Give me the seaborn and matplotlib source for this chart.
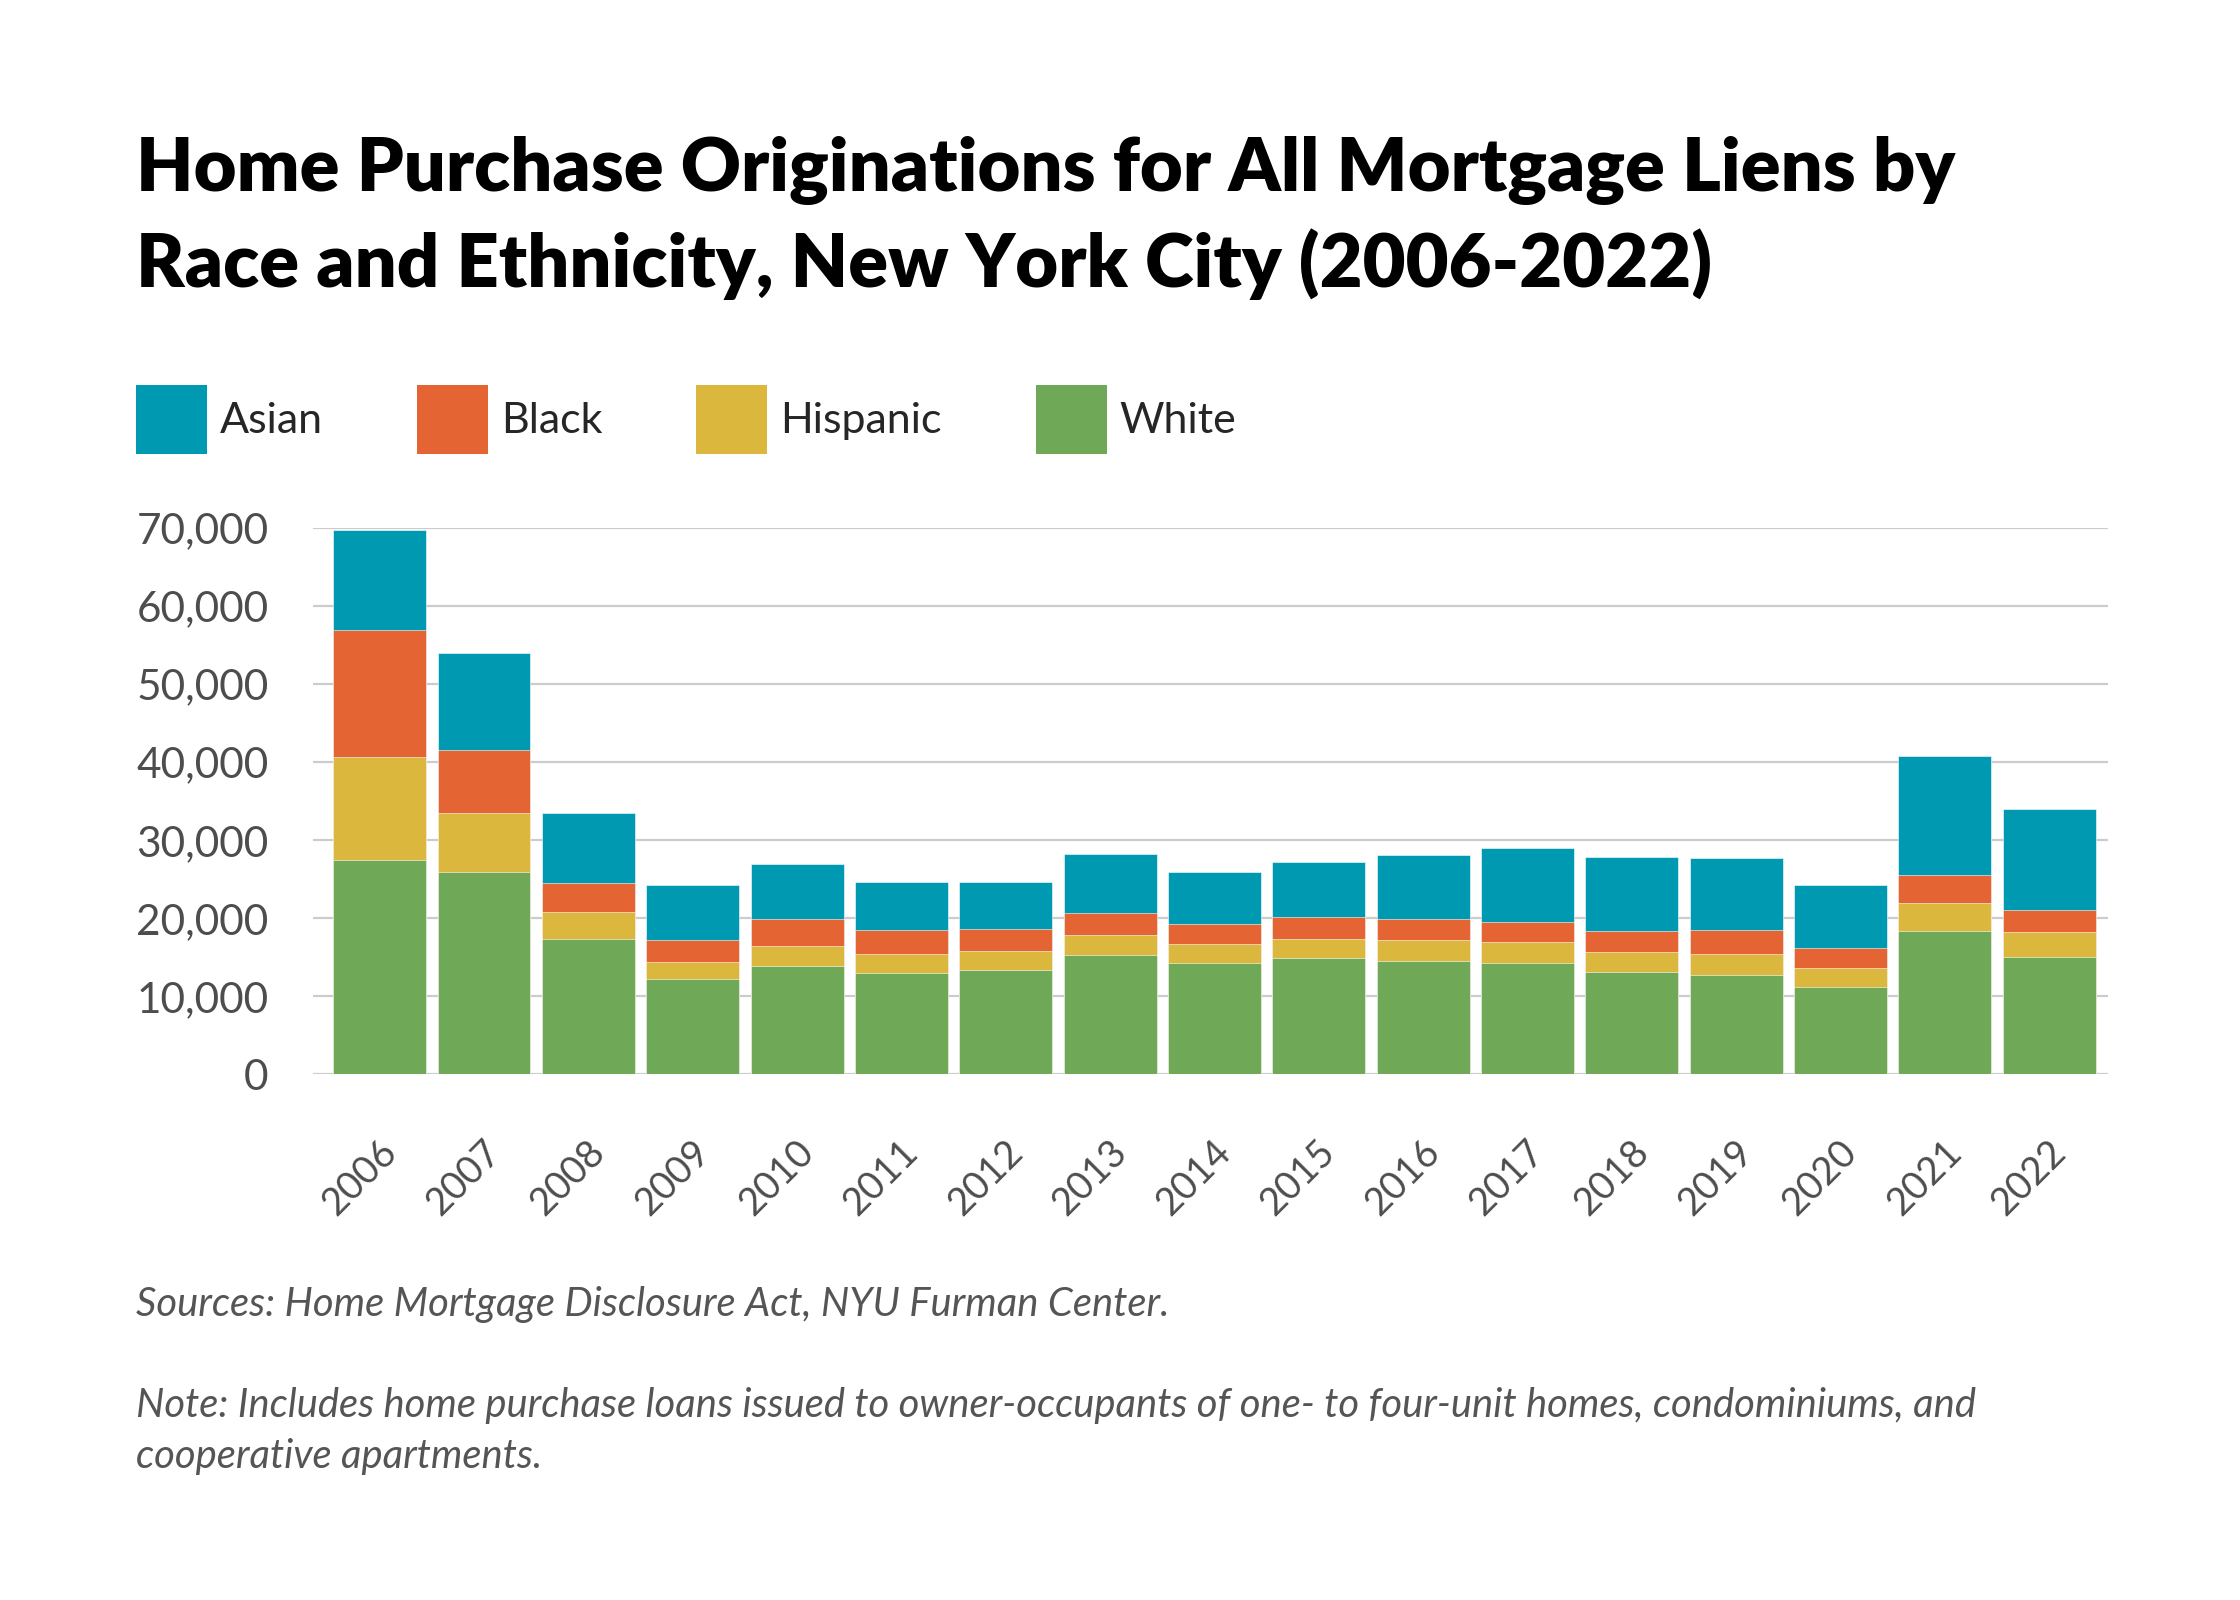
import matplotlib
matplotlib.use("Agg")
import matplotlib.pyplot as plt
from matplotlib.patches import Patch
from matplotlib.ticker import FuncFormatter
from matplotlib.transforms import ScaledTranslation
import pandas as pd
import seaborn as sns

# --- data ---
years = [str(y) for y in range(2006, 2023)]
white = [27500, 25900, 17400, 12200, 13900, 12950, 13400, 15230, 14260,
         14850, 14470, 14230, 13120, 12710, 11130, 18340, 15050]
hispanic = [13200, 7650, 3400, 2200, 2550, 2500, 2430, 2640, 2460,
            2510, 2720, 2660, 2600, 2730, 2430, 3620, 3120]
black = [16200, 7950, 3750, 2850, 3450, 3050, 2770, 2810, 2560,
         2770, 2770, 2570, 2660, 3110, 2640, 3630, 2900]
asian = [12900, 12550, 9000, 7050, 7050, 6150, 6000, 7490, 6680,
         7020, 8080, 9530, 9480, 9170, 8060, 15220, 12870]

groups = ["Asian", "Black", "Hispanic", "White"]
colors = {"Asian": "#0099B2", "Black": "#E56434",
          "Hispanic": "#DCB73E", "White": "#6FA857"}

df = pd.DataFrame({"year": years, "White": white, "Hispanic": hispanic,
                   "Black": black, "Asian": asian})
# stack from the bottom: White, Hispanic, Black, Asian
df["cum_White"] = df["White"]
df["cum_Hispanic"] = df["cum_White"] + df["Hispanic"]
df["cum_Black"] = df["cum_Hispanic"] + df["Black"]
df["cum_Asian"] = df["cum_Black"] + df["Asian"]

sns.set_style("white")
plt.rcParams["font.family"] = ["Lato", "DejaVu Sans"]

fig = plt.figure(figsize=(22.4, 16), dpi=100)
ax = fig.add_axes([0.1397, 0.3286, 0.8012, 0.3413])

# draw tallest (cumulative) first so lower segments sit on top
for g in ["Asian", "Black", "Hispanic", "White"]:
    sns.barplot(data=df, x="year", y="cum_" + g, color=colors[g],
                saturation=1, width=0.89, edgecolor="white",
                linewidth=0.4, ax=ax)

ax.set_ylim(0, 70000)
ax.set_xlim(-0.64, 16.56)
ax.set_yticks(range(0, 70001, 10000))
ax.yaxis.set_major_formatter(FuncFormatter(lambda v, p: f"{int(v):,}"))
ax.yaxis.grid(True, color="#cccccc", linewidth=1.6)
ax.set_axisbelow(True)
sns.despine(ax=ax, left=True, bottom=True)
ax.set_xlabel("")
ax.set_ylabel("")
ax.tick_params(axis="y", length=0, pad=32, labelsize=30.5, labelcolor="#4d4d4d")
ax.tick_params(axis="x", length=0, pad=52, labelsize=27.5, labelcolor="#4d4d4d")

offset = ScaledTranslation(0.11, 0, fig.dpi_scale_trans)
for lab in ax.get_xticklabels():
    lab.set_rotation(45)
    lab.set_ha("right")
    lab.set_va("center")
    lab.set_rotation_mode("anchor")
    lab.set_transform(lab.get_transform() + offset)

# title
fig.text(0.0607, 0.8806, "Home Purchase Originations for All Mortgage Liens by",
         fontsize=53.3, fontweight="heavy", color="black", va="baseline")
fig.text(0.0607, 0.8206, "Race and Ethnicity, New York City (2006-2022)",
         fontsize=53.3, fontweight="heavy", color="black", va="baseline")

# legend
handles = [Patch(facecolor=colors[g], edgecolor="none") for g in groups]
fig.legend(handles, groups, loc="center left", bbox_to_anchor=(0.0607, 0.738),
           ncol=4, frameon=False, fontsize=31, handlelength=1.65,
           handleheight=2.1, handletextpad=0.3, columnspacing=2.18,
           borderpad=0, borderaxespad=0)

# footnotes
note_kw = dict(fontsize=28.8, style="italic", color="#555555", va="baseline")
fig.text(0.0607, 1 - 1316 / 1600,
         "Sources: Home Mortgage Disclosure Act, NYU Furman Center.", **note_kw)
fig.text(0.0607, 1 - 1417 / 1600,
         "Note: Includes home purchase loans issued to owner-occupants of one- "
         "to four-unit homes, condominiums, and", **note_kw)
fig.text(0.0607, 1 - 1468 / 1600, "cooperative apartments.", **note_kw)

fig.savefig("out.png", dpi=100, facecolor="white")
